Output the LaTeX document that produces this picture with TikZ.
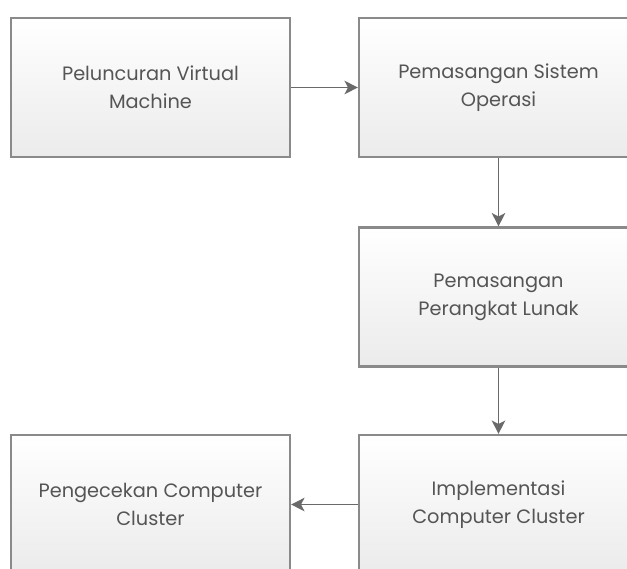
\documentclass[tikz,border=0pt]{standalone}
\usepackage{fontspec}
\setmainfont{Poppins}
\usetikzlibrary{arrows.meta}
\definecolor{edgegray}{HTML}{8A8A8A}
\definecolor{linegray}{HTML}{6A6A6A}
\definecolor{textgray}{HTML}{555555}
\definecolor{fillbottom}{HTML}{EBEBEB}
\tikzset{
  stepbox/.style={draw=edgegray, line width=1.6pt, top color=white, bottom color=fillbottom,
    minimum width=279*0.75pt, minimum height=139*0.75pt, inner sep=0pt,
    align=center, text=textgray, font=\fontsize{14.5}{21}\selectfont},
  flow/.style={draw=linegray, line width=1.4pt, -{Stealth[length=10pt,width=10pt,inset=2.5pt]}}
}
\begin{document}
\begin{tikzpicture}[x=0.75pt,y=-0.75pt]
  \useasboundingbox (0,0) rectangle (627,568);
  \begin{scope}
    \clip (0,0) rectangle (627,568);
    \node[stepbox] (vm)    at (150.5,87.5)  {Peluncuran Virtual\\Machine};
    \node[stepbox] (os)    at (498.5,87.5)  {Pemasangan Sistem\\Operasi};
    \node[stepbox] (sw)    at (498.5,297)   {Pemasangan\\Perangkat Lunak};
    \node[stepbox] (impl)  at (498.5,504.5) {Implementasi\\Computer Cluster};
    \node[stepbox] (check) at (150.5,504.5) {Pengecekan Computer\\Cluster};
  \end{scope}
  \draw[flow] (vm.east) -- (os.west);
  \draw[flow] (os.south) -- (sw.north);
  \draw[flow] (sw.south) -- (impl.north);
  \draw[flow] (impl.west) -- (check.east);
\end{tikzpicture}
\end{document}
